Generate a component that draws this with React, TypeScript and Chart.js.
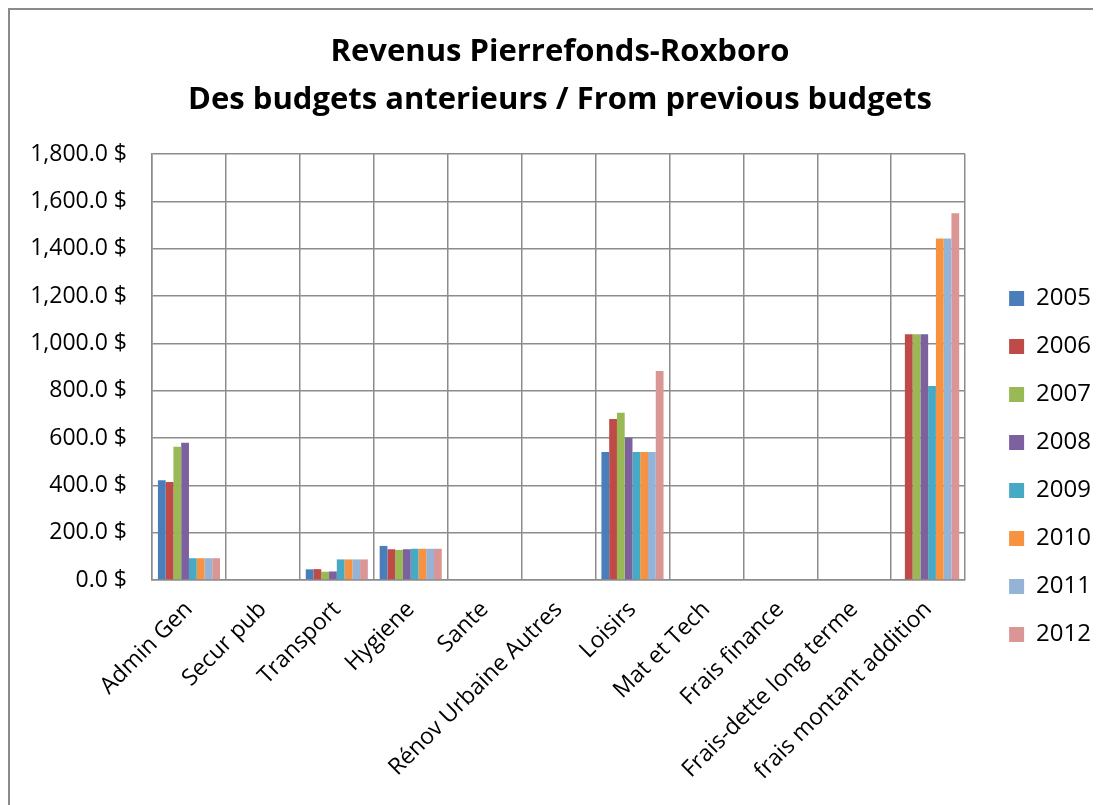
import React, { useEffect, useRef } from "react";
import { Chart, registerables } from "chart.js";

Chart.register(...registerables);

const categories = [
  "Admin Gen",
  "Secur pub",
  "Transport",
  "Hygiene",
  "Sante",
  "Rénov Urbaine Autres",
  "Loisirs",
  "Mat et Tech",
  "Frais finance",
  "Frais-dette long terme",
  "frais montant addition",
];

const years = ["2005", "2006", "2007", "2008", "2009", "2010", "2011", "2012"];

const y2005 = [422, 0, 45, 144, 0, 0, 541, 0, 0, 0, 0];
const y2006 = [414, 0, 46, 130, 0, 0, 680, 0, 0, 0, 1039];
const y2007 = [563, 0, 35, 127, 0, 0, 707, 0, 0, 0, 1039];
const y2008 = [580, 0, 36, 130, 0, 0, 601, 0, 0, 0, 1039];
const y2009 = [92, 0, 87, 132, 0, 0, 541, 0, 0, 0, 820];
const y2010 = [92, 0, 87, 132, 0, 0, 541, 0, 0, 0, 1443];
const y2011 = [92, 0, 87, 132, 0, 0, 541, 0, 0, 0, 1443];
const y2012 = [92, 0, 87, 132, 0, 0, 883, 0, 0, 0, 1550];

const seriesValues = [y2005, y2006, y2007, y2008, y2009, y2010, y2011, y2012];

const colors = [
  "#4A7EBB",
  "#BE4B48",
  "#98B954",
  "#7D60A0",
  "#46AAC5",
  "#F69240",
  "#95B3D7",
  "#D99694",
];

const titleLines = [
  "Revenus Pierrefonds-Roxboro",
  "Des budgets anterieurs / From previous budgets",
];

const FONT = "'Open Sans', sans-serif";

function fmt(v: number): string {
  const s = v.toFixed(1);
  const [i, d] = s.split(".");
  return i.replace(/\B(?=(\d{3})+(?!\d))/g, ",") + "." + d + " $";
}

const LEGEND_GAP = 20;
const LEGEND_SHIFT = 59;

const legendPlacer = {
  id: "legendPlacer",
  beforeInit(chart: any) {
    const lg = chart.legend;
    if (!lg) return;
    const fit = lg.fit.bind(lg);
    lg.fit = function () {
      fit();
      this.width += LEGEND_GAP;
    };
  },
  afterLayout(chart: any) {
    const lg = chart.legend;
    if (!lg) return;
    lg.left += LEGEND_GAP;
    lg.right += LEGEND_GAP;
    lg.top += LEGEND_SHIFT;
    lg.bottom += LEGEND_SHIFT;
  },
};

export default function App() {
  const ref = useRef<HTMLCanvasElement>(null);

  useEffect(() => {
    if (!ref.current) return;
    const chart = new Chart(ref.current, {
      type: "bar",
      data: {
        labels: categories,
        datasets: years.map((y, i) => ({
          label: y,
          data: seriesValues[i],
          backgroundColor: colors[i],
          borderWidth: 0,
          categoryPercentage: 0.84,
          barPercentage: 1.0,
        })),
      },
      plugins: [legendPlacer],
      options: {
        responsive: false,
        animation: false,
        layout: { padding: { left: 9, right: 0, top: 0, bottom: 0 } },
        plugins: {
          tooltip: { enabled: false },
          title: {
            display: true,
            text: titleLines,
            color: "#000",
            font: { family: FONT, size: 31, weight: "bold", lineHeight: 1.55 },
            padding: { top: 18, bottom: 30 },
          },
          legend: {
            position: "right",
            labels: {
              color: "#000",
              font: { family: FONT, size: 24 },
              boxWidth: 15,
              boxHeight: 15,
              padding: 24,
            },
          },
        },
        scales: {
          x: {
            grid: {
              offset: true,
              color: "#8c8c8c",
              lineWidth: 1.5,
              drawTicks: false,
            },
            border: { color: "#8c8c8c", width: 1.5 },
            ticks: {
              color: "#000",
              font: { family: FONT, size: 23 },
              maxRotation: 45,
              minRotation: 45,
              autoSkip: false,
              padding: 16,
            },
            afterFit: (s: any) => {
              s.height = 225;
            },
          },
          y: {
            min: 0,
            max: 1800,
            grid: { color: "#8c8c8c", lineWidth: 1.5, drawTicks: false },
            border: { color: "#8c8c8c", width: 1.5 },
            ticks: {
              stepSize: 200,
              color: "#000",
              font: { family: FONT, size: 23 },
              padding: 25,
              callback: (v: any) => fmt(Number(v)),
            },
            afterFit: (s: any) => {
              s.width = 133;
            },
          },
        },
      },
    });
    return () => chart.destroy();
  }, []);

  return (
    <div
      style={{
        width: 1091,
        height: 795,
        borderLeft: "2px solid #8a8a8a",
        borderTop: "2px solid #8a8a8a",
        background: "#fff",
      }}
    >
      <canvas ref={ref} width={1091} height={795} style={{ display: "block" }} />
    </div>
  );
}
